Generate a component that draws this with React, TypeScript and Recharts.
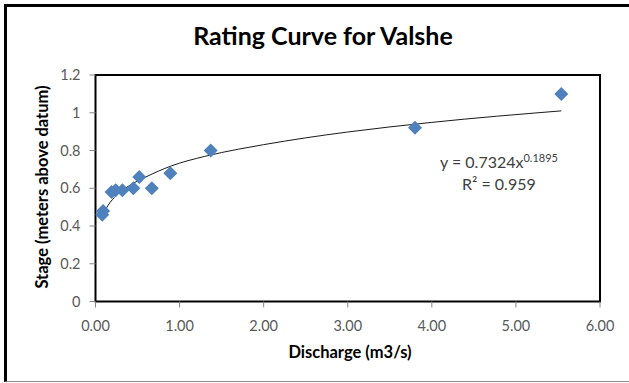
import { ComposedChart, Scatter, Line, XAxis, YAxis, ReferenceArea } from 'recharts';

// observed discharge / stage pairs
const discharge = [0.08, 0.09, 0.19, 0.24, 0.32, 0.45, 0.52, 0.67, 0.89, 1.37, 3.8, 5.54];
const stage = [0.46, 0.48, 0.58, 0.59, 0.59, 0.6, 0.66, 0.6, 0.68, 0.8, 0.92, 1.1];

// power trendline
const trendQ = [0.09, 0.15, 0.25, 0.4, 0.6, 0.9, 1.3, 1.7, 2.0, 2.5, 3.0, 4.0, 5.54];
const trendStage = [0.464, 0.51, 0.563, 0.613, 0.66, 0.718, 0.769, 0.807, 0.831, 0.867, 0.898, 0.949, 1.01];

const xTicks = [0, 1, 2, 3, 4, 5, 6];
const yTicks = [0, 0.2, 0.4, 0.6, 0.8, 1, 1.2];

const points = discharge.map((q, i) => ({ q, stage: stage[i] }));
const trend = trendQ.map((q, i) => ({ q, stage: trendStage[i] }));

const FONT = 'Lato, "Open Sans", sans-serif';

function Diamond(props: { cx?: number; cy?: number }) {
  const { cx = 0, cy = 0 } = props;
  const r = 7;
  return (
    <polygon
      points={`${cx},${cy - r} ${cx + r},${cy} ${cx},${cy + r} ${cx - r},${cy}`}
      fill="#4F81BD"
    />
  );
}

export default function App() {
  const tickStyle = { fontSize: 14.5, fill: '#595959', fontFamily: FONT };
  return (
    <div style={{ position: 'relative', width: 629, height: 383, overflow: 'hidden', background: '#fff', fontFamily: FONT }}>
      <style>{'body{margin:0}'}</style>
      <div
        style={{
          position: 'absolute',
          left: 4,
          top: 4,
          width: 700,
          height: 374,
          borderTop: '3px solid #000',
          borderLeft: '3px solid #000',
          borderBottom: '1px solid #8c8c8c',
        }}
      />
      <div
        style={{
          position: 'absolute',
          left: 0,
          width: 646,
          top: 20,
          textAlign: 'center',
          fontSize: 25,
          fontWeight: 700,
          color: '#000',
        }}
      >
        Rating Curve for Valshe
      </div>
      <ComposedChart
        width={629}
        height={383}
        margin={{ top: 75, right: 29, bottom: 41.5, left: 35.5 }}
        style={{ position: 'absolute', left: 0, top: 0 }}
      >
        <XAxis
          dataKey="q"
          type="number"
          domain={[0, 6]}
          ticks={xTicks}
          tickFormatter={(v: number) => v.toFixed(2)}
          tick={tickStyle}
          tickLine={{ stroke: '#868686' }}
          axisLine={{ stroke: '#000' }}
          tickSize={6}
          tickMargin={13}
          height={40}
          interval={0}
        />
        <YAxis
          dataKey="stage"
          type="number"
          domain={[0, 1.2]}
          ticks={yTicks}
          tick={tickStyle}
          tickLine={{ stroke: '#868686' }}
          axisLine={{ stroke: '#000' }}
          tickSize={6}
          tickMargin={9}
          width={60}
          interval={0}
        />
        <ReferenceArea x1={0} x2={6} y1={0} y2={1.2} fill="none" stroke="#000" strokeWidth={2} />
        <Line
          data={trend}
          dataKey="stage"
          type="monotone"
          stroke="#1a1a1a"
          strokeWidth={1}
          dot={false}
          activeDot={false}
          isAnimationActive={false}
        />
        <Scatter data={points} dataKey="stage" shape={<Diamond />} isAnimationActive={false} />
      </ComposedChart>
      <div
        style={{
          position: 'absolute',
          left: 250,
          width: 200,
          top: 342,
          textAlign: 'center',
          fontSize: 16.5,
          fontWeight: 700,
          color: '#000',
        }}
      >
        Discharge (m3/s)
      </div>
      <div
        style={{
          position: 'absolute',
          left: 42,
          top: 187,
          transform: 'translate(-50%, -50%) rotate(-90deg)',
          whiteSpace: 'nowrap',
          fontSize: 16.5,
          fontWeight: 700,
          color: '#000',
        }}
      >
        Stage (meters above datum)
      </div>
      <div style={{ position: 'absolute', left: 440, top: 151, fontSize: 16, color: '#404040', whiteSpace: 'nowrap' }}>
        y = 0.7324x<sup style={{ fontSize: 11 }}>0.1895</sup>
      </div>
      <div style={{ position: 'absolute', left: 462, top: 174, fontSize: 16, color: '#404040', whiteSpace: 'nowrap' }}>
        R² = 0.959
      </div>
    </div>
  );
}
